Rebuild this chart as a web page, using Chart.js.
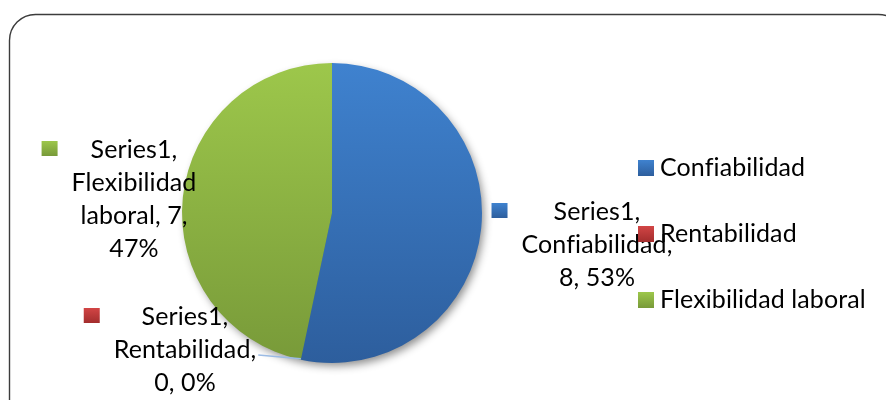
<!DOCTYPE html>
<html>
<head>
<meta charset="utf-8">
<script src="https://cdn.jsdelivr.net/npm/chart.js@4"></script>
<style>
  html, body { margin: 0; padding: 0; background: #fff; }
  #wrap { width: 886px; height: 400px; }
</style>
</head>
<body>
<div id="wrap"><canvas id="pieChart" width="886" height="400"></canvas></div>
<script>
// Pie data
const seriesName = 'Series1';
const categories = ['Confiabilidad', 'Rentabilidad', 'Flexibilidad laboral'];
const values = [8, 0, 7];

// Slice colours (top / bottom of the vertical gradient)
const topColors = ['#3f82cf', '#d24545', '#9dc74b'];
const bottomColors = ['#2d5e9d', '#a32d2d', '#789a39'];

const FONT = '25px Lato, "Open Sans", sans-serif';
const LINE_H = 33;

// Where each data label sits, relative to the pie centre
const labelLayout = [
    { dx: 265, dy: -1, maxWidth: 160, leader: false },
    { dx: -147, dy: 104, maxWidth: 140, leader: true },
    { dx: -198, dy: -63, maxWidth: 130, leader: false }
];

function verticalGradient(ctx, top, bottom, c1, c2) {
    const g = ctx.createLinearGradient(0, top, 0, bottom);
    g.addColorStop(0, c1);
    g.addColorStop(1, c2);
    return g;
}

// plain glyphs, no "fi" ligature
function setTextStyle(ctx) {
    ctx.font = FONT;
    if ('textRendering' in ctx) ctx.textRendering = 'optimizeSpeed';
    if ('letterSpacing' in ctx) ctx.letterSpacing = '0.1px';
}

function wrapWords(ctx, text, maxWidth) {
    const words = text.split(' ');
    const lines = [];
    let line = '';
    words.forEach(w => {
        const test = line ? line + ' ' + w : w;
        if (line && ctx.measureText(test).width > maxWidth) {
            lines.push(line);
            line = w;
        } else {
            line = test;
        }
    });
    if (line) lines.push(line);
    return lines;
}

// Rounded frame around the whole chart
const framePlugin = {
    id: 'frame',
    beforeDraw(chart) {
        const ctx = chart.ctx;
        ctx.save();
        ctx.strokeStyle = '#3c3c3c';
        ctx.lineWidth = 1.4;
        ctx.beginPath();
        ctx.roundRect(9.5, 14.5, 895, 420, 26);
        ctx.stroke();
        ctx.restore();
    }
};

// Soft drop shadow under the pie
const shadowPlugin = {
    id: 'pieShadow',
    beforeDatasetsDraw(chart) {
        const arc = chart.getDatasetMeta(0).data[0];
        if (!arc) return;
        const ctx = chart.ctx;
        ctx.save();
        ctx.shadowColor = 'rgba(0,0,0,0.45)';
        ctx.shadowBlur = 9;
        ctx.shadowOffsetX = 3;
        ctx.shadowOffsetY = 4;
        ctx.fillStyle = '#2d5e9d';
        ctx.beginPath();
        ctx.arc(arc.x, arc.y, arc.outerRadius - 1, 0, Math.PI * 2);
        ctx.fill();
        ctx.restore();
    }
};

// Data labels with legend keys, plus the leader line for the empty slice
const dataLabelPlugin = {
    id: 'dataLabels',
    afterDatasetsDraw(chart) {
        const ctx = chart.ctx;
        const meta = chart.getDatasetMeta(0);
        const total = values.reduce((a, b) => a + b, 0);
        ctx.save();
        setTextStyle(ctx);
        ctx.textAlign = 'center';
        ctx.textBaseline = 'middle';
        meta.data.forEach((arc, i) => {
            const pos = labelLayout[i];
            const pct = Math.round(values[i] / total * 100);
            const text = `${seriesName}, ${categories[i]}, ${values[i]}, ${pct}%`;
            const lines = wrapWords(ctx, text, pos.maxWidth);
            const cx = arc.x + pos.dx;
            const cy = arc.y + pos.dy;
            const boxW = Math.max(...lines.map(l => ctx.measureText(l).width));

            if (pos.leader) {
                const a = arc.startAngle;
                const ex = arc.x + arc.outerRadius * Math.cos(a);
                const ey = arc.y + arc.outerRadius * Math.sin(a);
                const w2 = ctx.measureText(lines[1] || lines[0]).width;
                ctx.strokeStyle = '#9bbbe4';
                ctx.lineWidth = 1.5;
                ctx.beginPath();
                ctx.moveTo(cx + w2 / 2 + 2, cy + LINE_H + 5);
                ctx.lineTo(ex, ey - 1);
                ctx.stroke();
            }

            ctx.fillStyle = '#000';
            lines.forEach((l, k) => ctx.fillText(l, cx, cy + k * LINE_H));

            const sx = cx - boxW / 2 - 30;
            const sy = cy - 9;
            ctx.fillStyle = verticalGradient(ctx, sy, sy + 15, topColors[i], bottomColors[i]);
            ctx.fillRect(sx, sy, 16, 15);
        });
        ctx.restore();
    }
};

// Legend on the right
const legendPlugin = {
    id: 'sideLegend',
    afterDraw(chart) {
        const ctx = chart.ctx;
        ctx.save();
        setTextStyle(ctx);
        ctx.textAlign = 'left';
        ctx.textBaseline = 'middle';
        categories.forEach((name, i) => {
            const y = 168 + i * 66;
            ctx.fillStyle = verticalGradient(ctx, y - 8, y + 8, topColors[i], bottomColors[i]);
            ctx.fillRect(638, y - 8, 16, 16);
            ctx.fillStyle = '#000';
            ctx.fillText(name, 660, y);
        });
        ctx.restore();
    }
};

const ctx = document.getElementById('pieChart');
new Chart(ctx, {
    type: 'pie',
    data: {
        labels: categories,
        datasets: [{
            label: seriesName,
            data: values,
            backgroundColor: function(context) {
                const area = context.chart.chartArea;
                const i = context.dataIndex;
                if (!area) return topColors[i];
                return verticalGradient(context.chart.ctx, area.top, area.bottom, topColors[i], bottomColors[i]);
            },
            borderWidth: 0
        }]
    },
    options: {
        responsive: false,
        animation: false,
        layout: {
            padding: { left: 182, right: 404, top: 63, bottom: 37 }
        },
        plugins: {
            legend: { display: false },
            tooltip: { enabled: false }
        }
    },
    plugins: [framePlugin, shadowPlugin, dataLabelPlugin, legendPlugin]
});
</script>
</body>
</html>
